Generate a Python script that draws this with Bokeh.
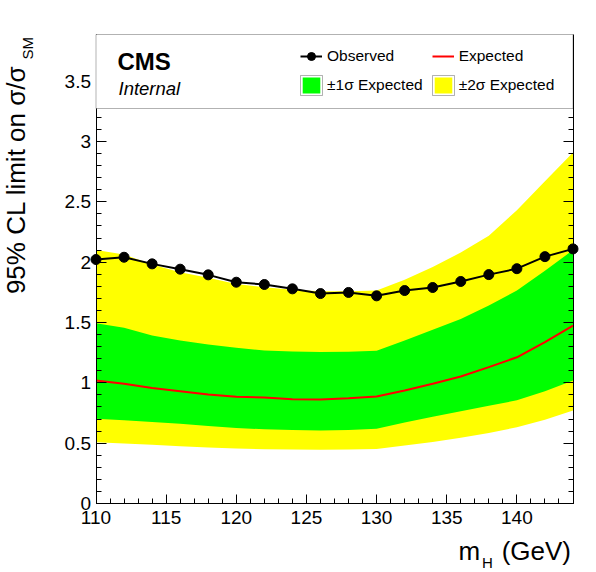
import math
from bokeh.plotting import figure
from bokeh.models import (Range1d, SingleIntervalTicker, LinearAxis, NumeralTickFormatter,
                          CustomJSTickFormatter, BoxAnnotation, Label, Legend, LegendItem)
from bokeh.embed import file_html
from bokeh.resources import INLINE

# ---------------- data ----------------
mass = [110, 112, 114, 116, 118, 120, 122, 124, 126, 128, 130, 132, 134, 136, 138, 140, 142, 144]
observed = [2.022, 2.041, 1.986, 1.942, 1.895, 1.834, 1.815, 1.779, 1.740, 1.749,
            1.721, 1.765, 1.790, 1.840, 1.897, 1.946, 2.046, 2.110]
expected = [1.019, 0.992, 0.958, 0.931, 0.903, 0.884, 0.878, 0.864, 0.862, 0.873,
            0.887, 0.936, 0.992, 1.052, 1.130, 1.212, 1.337, 1.475]
band1_lo = [0.702, 0.690, 0.675, 0.660, 0.642, 0.625, 0.615, 0.609, 0.606, 0.610,
            0.619, 0.672, 0.720, 0.765, 0.810, 0.855, 0.930, 1.020]
band1_hi = [1.494, 1.456, 1.392, 1.351, 1.318, 1.290, 1.268, 1.260, 1.255, 1.258,
            1.265, 1.350, 1.440, 1.530, 1.640, 1.765, 1.930, 2.100]
band2_lo = [0.508, 0.497, 0.486, 0.475, 0.464, 0.455, 0.450, 0.447, 0.446, 0.447,
            0.452, 0.480, 0.510, 0.545, 0.585, 0.632, 0.695, 0.771]
band2_hi = [2.102, 2.064, 1.981, 1.917, 1.870, 1.820, 1.793, 1.771, 1.760, 1.760,
            1.765, 1.855, 1.960, 2.080, 2.220, 2.430, 2.670, 2.910]

x_axis_range = (110, 144)
y_axis_range = (0, 3.887)
x_tick_interval = 5
y_tick_interval = 0.5

FONT = "Liberation Sans"
GREEN = "#00ff00"
YELLOW = "#ffff00"

# ---------------- layout (pixels) ----------------
W, H = 596, 572
FRAME_L, FRAME_R = 95.5, 572.5      # pixel of x=110 and x=144
FRAME_B, FRAME_T = 503.0, 34.0      # pixel of y=0 and y=top
kx = (FRAME_R - FRAME_L) / (x_axis_range[1] - x_axis_range[0])
ky = (FRAME_B - FRAME_T) / (y_axis_range[1] - y_axis_range[0])
x_lo = x_axis_range[0] - FRAME_L / kx
x_hi = x_lo + W / kx
y_hi = y_axis_range[0] + FRAME_B / ky
y_lo = y_hi - H / ky

BASE_SHIFT = 0.36   # em, correction of Bokeh's alphabetic baseline (horizontal text)
ROT_SHIFT = 10.5    # px, correction for rotated text


def dx(px):
    return x_lo + px / kx


def dy(py):
    return y_hi - py / ky


def hlabel(px, baseline_py, text, size, **kw):
    return Label(x=dx(px), y=dy(baseline_py - BASE_SHIFT * size), text=text, text_font=FONT,
                 text_font_size=f"{size}px", text_baseline="alphabetic", text_color="black", **kw)


def vlabel(baseline_px, py, text, size, **kw):
    return Label(x=dx(baseline_px - ROT_SHIFT), y=dy(py), text=text, text_font=FONT,
                 text_font_size=f"{size}px", angle=math.pi / 2, text_baseline="alphabetic",
                 text_color="black", **kw)


p = figure(width=W, height=H, output_backend="svg", toolbar_location=None,
           x_range=Range1d(x_lo, x_hi), y_range=Range1d(y_lo, y_hi),
           x_axis_location=None, y_axis_location=None,
           min_border_left=0, min_border_right=0, min_border_top=0, min_border_bottom=0)
p.grid.visible = False
p.outline_line_color = None
p.background_fill_color = "white"
p.border_fill_color = "white"

# ---------------- axes ----------------
xaxis = LinearAxis(fixed_location=y_axis_range[0], bounds=x_axis_range,
                   ticker=SingleIntervalTicker(interval=x_tick_interval, num_minor_ticks=5))
yaxis = LinearAxis(fixed_location=x_axis_range[0], bounds=y_axis_range,
                   ticker=SingleIntervalTicker(interval=y_tick_interval, num_minor_ticks=5),
                   formatter=NumeralTickFormatter(format="0.[0]"))
raxis = LinearAxis(fixed_location=x_axis_range[1], bounds=y_axis_range,
                   ticker=SingleIntervalTicker(interval=y_tick_interval, num_minor_ticks=5),
                   formatter=CustomJSTickFormatter(code="return ''"))
for ax in [xaxis, yaxis, raxis]:
    ax.axis_line_color = "black"
    ax.axis_line_width = 1
    ax.major_tick_in = 10
    ax.major_tick_out = 0
    ax.minor_tick_in = 5
    ax.minor_tick_out = 0
    ax.major_tick_line_color = "black"
    ax.minor_tick_line_color = "black"
    ax.major_label_text_font = FONT
    ax.major_label_text_color = "black"
    ax.major_label_text_font_size = "19px"
xaxis.major_tick_in = 9
xaxis.major_label_standoff = 7
yaxis.major_label_standoff = 5
p.add_layout(xaxis, "below")
p.add_layout(yaxis, "left")
p.add_layout(raxis, "right")

# ---------------- bands and lines ----------------
r2 = p.varea(x=mass, y1=band2_lo, y2=band2_hi, fill_color=YELLOW)
r1 = p.varea(x=mass, y1=band1_lo, y2=band1_hi, fill_color=GREEN)
exp_line = p.line(mass, expected, line_color="red", line_width=2)
obs_line = p.line(mass, observed, line_color="black", line_width=2)
obs_pts = p.scatter(mass, observed, size=10, fill_color="black", line_color="black")

# ---------------- header box ----------------
box = BoxAnnotation(left=x_axis_range[0], right=x_axis_range[1], bottom=dy(108), top=y_axis_range[1],
                    fill_color="white", fill_alpha=1.0, line_color="black", line_width=1)
p.add_layout(box)

# ---------------- legend ----------------
LEG_X, LEG_BOTTOM = 300, 95
legend = Legend(items=[
    LegendItem(label="Observed", renderers=[obs_line, obs_pts]),
    LegendItem(label="±1σ Expected", renderers=[r1]),
    LegendItem(label="Expected", renderers=[exp_line]),
    LegendItem(label="±2σ Expected", renderers=[r2]),
], location=(LEG_X, H - LEG_BOTTOM), orientation="vertical", nrows=2,
    glyph_width=22, glyph_height=20, label_height=20, label_standoff=5,
    spacing=9, padding=0, margin=0, border_line_alpha=0, background_fill_alpha=0,
    label_text_font=FONT, label_text_font_size="15.5px", label_text_color="black")
p.add_layout(legend)

# swatch outlines
for (l, r) in [(300, 322), (432, 454)]:
    p.add_layout(BoxAnnotation(left=dx(l), right=dx(r), bottom=dy(95), top=dy(75),
                               fill_alpha=0, line_color="black", line_width=1))

# ---------------- texts ----------------
p.add_layout(hlabel(117, 70, "CMS", 24, text_font_style="bold", text_align="left"))
p.add_layout(hlabel(118, 95, "Internal", 18.5, text_font_style="italic", text_align="left"))

# x axis title: m_H (GeV)
p.add_layout(hlabel(458, 560, "m", 26, text_align="left"))
p.add_layout(hlabel(481.5, 567, "H", 15, text_align="left"))
p.add_layout(hlabel(570.5, 560, "(GeV)", 26, text_align="right"))

# y axis title: 95% CL limit on σ/σ_SM
p.add_layout(vlabel(26, 65, "95% CL limit on σ/σ", 26, text_align="right"))
p.add_layout(vlabel(37.5, 59, "SM", 15, text_align="left"))

open("out.html", "w").write(file_html(p, INLINE))
